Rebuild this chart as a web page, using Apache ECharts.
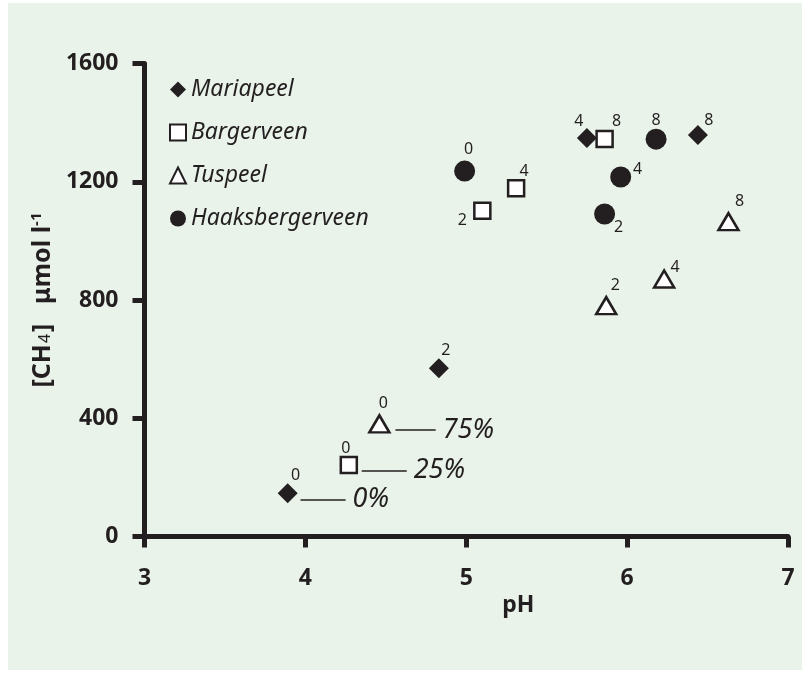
<!DOCTYPE html>
<html>
<head>
<meta charset="utf-8">
<script src="https://cdn.jsdelivr.net/npm/echarts@6/dist/echarts.min.js"></script>
<style>
  html, body { margin: 0; padding: 0; background: #fff; }
  #bg { position: absolute; left: 8px; top: 3px; width: 794px; height: 667px; background: #e9f3ea; }
  #chart { position: absolute; left: 0; top: 0; width: 810px; height: 678px; }
</style>
</head>
<body>
<div id="bg"></div>
<div id="chart"></div>
<script>
// data
var siteNames = ["Mariapeel", "Bargerveen", "Tuspeel", "Haaksbergerveen"];
var treatLabels = ["0", "2", "4", "8"];
var phMaria = [3.89, 4.83, 5.75, 6.44];
var ch4Maria = [146, 569, 1348, 1358];
var phBarger = [4.27, 5.10, 5.31, 5.86];
var ch4Barger = [242, 1102, 1178, 1345];
var phTus = [4.46, 5.87, 6.23, 6.63];
var ch4Tus = [381, 781, 871, 1065];
var phHaak = [4.99, 5.86, 5.96, 6.18];
var ch4Haak = [1236, 1091, 1216, 1344];
var xTicks = [3, 4, 5, 6, 7];
var yTicks = [0, 400, 800, 1200, 1600];

// percentage notes next to the 0-points
var pctText = ["0%", "25%", "75%"];
var pctFrom = [3.97, 4.35, 4.56];
var pctTo = [4.25, 4.63, 4.81];
var pctY = [126, 223, 360];

// label offsets (px) for each point label, per series
var offMaria = [[8, -18], [7, -18], [-8, -17], [11, -15]];
var offBarger = [[-3, -17], [-20, 10], [8, -17], [12, -17]];
var offTus = [[4, -20], [9, -20], [11, -12], [11, -20]];
var offHaak = [[4, -22], [14, 13], [17, -8], [0, -19]];

var ink = "#231f20";
var font = "Noto Sans";

function pts(xs, ys, offs) {
  return xs.map(function (x, i) {
    return {
      value: [x, ys[i]],
      label: { show: true, position: "inside", offset: offs[i], formatter: treatLabels[i] }
    };
  });
}

function note(k) {
  return {
    silent: true,
    symbol: ["none", "none"],
    animation: false,
    lineStyle: { color: ink, width: 1.5, type: "solid", opacity: 1 },
    label: {
      show: true, position: "end", distance: 7, formatter: pctText[k],
      fontStyle: "italic", fontSize: 27, color: ink, fontFamily: font
    },
    emphasis: { disabled: true },
    data: [[{ coord: [pctFrom[k], pctY[k]] }, { coord: [pctTo[k], pctY[k]] }]]
  };
}

var ptLabel = { color: ink, fontSize: 16, fontFamily: font };

var chart = echarts.init(document.getElementById("chart"));
var option = {
  animation: false,
  backgroundColor: "transparent",
  textStyle: { fontFamily: font },
  grid: { left: 144.5, right: 22, top: 63.5, bottom: 141.5 },
  legend: {
    orient: "vertical",
    left: 169,
    top: 78,
    padding: 0,
    itemGap: 20,
    itemWidth: 16,
    itemHeight: 16,
    itemTextGap: 6,
    data: siteNames,
    textStyle: { fontStyle: "italic", fontSize: 23, color: ink, fontFamily: font }
  },
  xAxis: {
    type: "value",
    min: xTicks[0],
    max: xTicks[xTicks.length - 1],
    interval: 1,
    name: "pH",
    nameLocation: "middle",
    nameGap: 56,
    nameTextStyle: { fontSize: 23, fontWeight: "bold", color: ink, padding: [0, 0, 0, 104] },
    axisLine: { lineStyle: { color: ink, width: 5 } },
    axisTick: { length: 11, lineStyle: { color: ink, width: 5 } },
    axisLabel: { margin: 30, fontSize: 23, fontWeight: "bold", color: ink },
    splitLine: { show: false }
  },
  yAxis: {
    type: "value",
    min: yTicks[0],
    max: yTicks[yTicks.length - 1],
    interval: 400,
    name: "{a|[CH}{b|4}{a|]   \u03bcmol l}{c|-1}",
    nameLocation: "middle",
    nameRotate: 90,
    nameGap: 82,
    nameTextStyle: {
      color: ink,
      rich: {
        a: { fontSize: 25, fontWeight: "bold", color: ink, fontFamily: font },
        b: { fontSize: 16, fontWeight: "normal", color: ink, fontFamily: font, padding: [6, 2, 0, 1] },
        c: { fontSize: 15, fontWeight: "bold", color: ink, fontFamily: font, padding: [0, 0, 12, 0] }
      }
    },
    axisLine: { show: true, lineStyle: { color: ink, width: 5 } },
    axisTick: { show: true, length: 12, lineStyle: { color: ink, width: 5 } },
    axisLabel: {
      margin: 26, fontSize: 23, fontWeight: "bold", color: ink,
      formatter: function (v) { return String(v); }
    },
    splitLine: { show: false }
  },
  series: [
    {
      name: siteNames[0], type: "scatter", symbol: "diamond", symbolSize: 20,
      itemStyle: { color: ink, opacity: 1 },
      label: ptLabel,
      data: pts(phMaria, ch4Maria, offMaria),
      markLine: note(0)
    },
    {
      name: siteNames[1], type: "scatter", symbol: "rect", symbolSize: 16,
      itemStyle: { color: "#ffffff", borderColor: ink, borderWidth: 2.5, opacity: 1 },
      label: ptLabel,
      data: pts(phBarger, ch4Barger, offBarger),
      markLine: note(1)
    },
    {
      name: siteNames[2], type: "scatter", symbol: "triangle", symbolSize: [20, 17],
      itemStyle: { color: "#ffffff", borderColor: ink, borderWidth: 2.5, opacity: 1 },
      label: ptLabel,
      data: pts(phTus, ch4Tus, offTus),
      markLine: note(2)
    },
    {
      name: siteNames[3], type: "scatter", symbol: "circle", symbolSize: 21,
      itemStyle: { color: ink, opacity: 1 },
      label: ptLabel,
      data: pts(phHaak, ch4Haak, offHaak)
    }
  ]
};
chart.setOption(option);
</script>
</body>
</html>
